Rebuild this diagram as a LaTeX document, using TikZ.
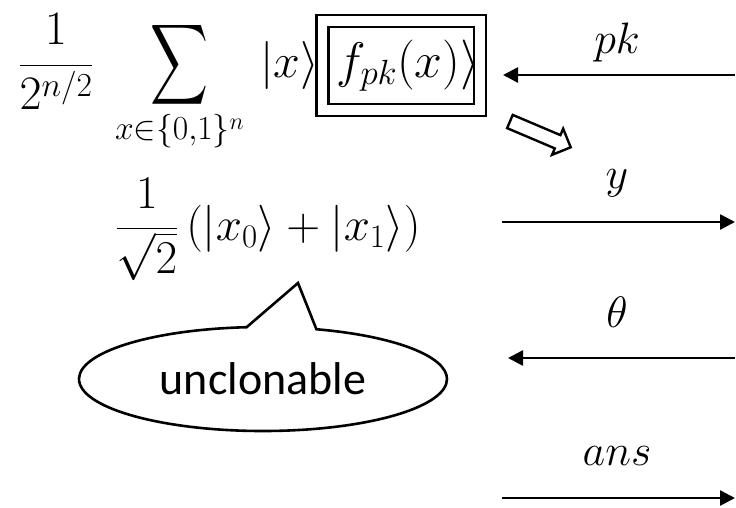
\documentclass[tikz,border=0pt]{standalone}
\usepackage{fix-cm}
\usepackage{exscale}
\usepackage{amsmath}
\usepackage{graphicx}
\usepackage{fontspec}
\newfontfamily\calibrifont{Carlito}
\usetikzlibrary{arrows.meta,positioning,shapes.arrows,shapes.callouts}

\newcommand{\bigsum}{\mathop{\vcenter{\hbox{\resizebox*{58pt}{90pt}{$\displaystyle\sum$}}}}\limits}

\begin{document}
\begin{tikzpicture}[
  x=1pt,y=-1pt,
  line width=2.6pt,
  tipleft/.style={{Triangle[length=15pt,width=15pt]}-},
  tipright/.style={-{Triangle[length=15pt,width=15pt]}},
  bigmath/.style={font=\fontsize{48}{54}\selectfont,inner sep=0pt,anchor=base west},
  midmath/.style={font=\fontsize{47}{53}\selectfont,inner sep=0pt,anchor=base west},
  msglabel/.style={font=\fontsize{44}{50}\selectfont,inner sep=0pt,anchor=base},
  dbox/.style={draw,double,double distance=9.4pt,line width=2.6pt,inner xsep=0pt,
    text height=36pt,text depth=13pt,inner ysep=20pt,font=\fontsize{50}{56}\selectfont},
  hollow/.style={single arrow,draw,line width=2.4pt,minimum height=66pt,inner xsep=0pt,
    inner ysep=6pt,single arrow head extend=7pt,rotate=-23},
  bubble/.style={ellipse callout,draw,line width=2.6pt,minimum width=368pt,minimum height=104pt,
    callout pointer arc=22,font=\calibrifont\fontsize{46}{52}\selectfont}
]
\useasboundingbox (0,0) rectangle (736,507);

% -------------------------------------------------------------------------
% states
% -------------------------------------------------------------------------
\node[bigmath] (superpos) at (17,77)
  {$\dfrac{1}{2^{n/2}}\;\bigsum_{x\in\{0,1\}^n}\,|x\rangle$};
\node[dbox,right=1pt of superpos.base east,anchor=base west] (fbox) {$|f_{pk}(x)\rangle$};
\node[hollow] (leadsto) at (537,133) {};
\node[midmath] (qubit) at (114,240)
  {$\dfrac{1}{\sqrt{2}}\,(|x_0\rangle+|x_1\rangle)$};

\coordinate (bubbletip) at (298,283);
\node[bubble,callout absolute pointer={(bubbletip)}] (unclone) at (263,379) {unclonable};

% -------------------------------------------------------------------------
% messages
% -------------------------------------------------------------------------
\foreach \nm/\yy/\xl/\bl/\tip/\lab in
  {pk/75/503/53/tipleft/pk, y/222/502/188/tipright/y,
   theta/358/508/327/tipleft/\theta, ans/498/502/465/tipright/ans}
{
  \coordinate (\nm-l) at (\xl,\yy);
  \coordinate (\nm-r) at (735,\yy);
  \node[msglabel] (\nm-lab) at (617,\bl) {$\lab$};
  \draw[\tip] (\nm-l) -- (\nm-r);
}
\end{tikzpicture}
\end{document}
